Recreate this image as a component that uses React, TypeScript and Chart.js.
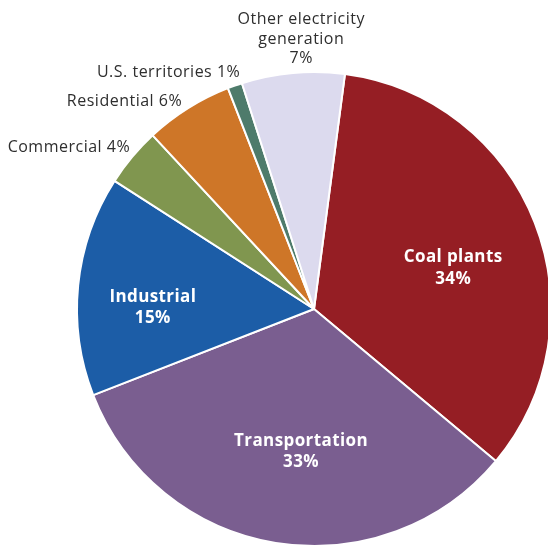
import React, { useEffect, useRef } from "react";
import { Chart, registerables } from "chart.js";

Chart.register(...registerables);

const categories = [
  "Coal plants",
  "Transportation",
  "Industrial",
  "Commercial",
  "Residential",
  "U.S. territories",
  "Other electricity generation",
];
const shares = [34, 33, 15, 4, 6, 1, 7];
const colors = ["#951E24", "#7A5E90", "#1C5DA7", "#80964F", "#CE7628", "#4E7B6B", "#DCDAEE"];
const labelLines = [
  ["Coal plants", "34%"],
  ["Transportation", "33%"],
  ["Industrial", "15%"],
  ["Commercial 4%"],
  ["Residential 6%"],
  ["U.S. territories 1%"],
  ["Other electricity", "generation", "7%"],
];

// placement: inside (white bold) or outside (gray); rf = radius fraction, da = angle shift (deg)
const placement = [
  { inside: true, rf: 0.612, da: 4.9, align: "center" },
  { inside: true, rf: 0.604, da: -4.1, align: "center" },
  { inside: true, rf: 0.68, da: -5.2, align: "center" },
  { inside: false, rf: 1.034, da: 1.5, align: "right" },
  { inside: false, rf: 1.038, da: -0.3, align: "right" },
  { inside: false, rf: 1.046, da: 2.2, align: "right" },
  { inside: false, rf: 1.14, da: 2.4, align: "center" },
];

const labelPlugin = {
  id: "sliceLabels",
  afterDatasetsDraw(chart: any) {
    const ctx = chart.ctx;
    const meta = chart.getDatasetMeta(0);
    meta.data.forEach((arc: any, i: number) => {
      const p = placement[i];
      const lines = labelLines[i];
      const mid = (arc.startAngle + arc.endAngle) / 2 + (p.da * Math.PI) / 180;
      const d = arc.outerRadius * p.rf;
      const x = arc.x + Math.cos(mid) * d;
      const y = arc.y + Math.sin(mid) * d;
      ctx.save();
      ctx.textAlign = p.align as CanvasTextAlign;
      ctx.textBaseline = "middle";
      let lh: number;
      if (p.inside) {
        ctx.font = "bold 17px 'Open Sans'";
        ctx.fillStyle = "#ffffff";
        (ctx as any).letterSpacing = "0.4px";
        lh = 21.5;
      } else {
        ctx.font = "16px 'Open Sans'";
        ctx.fillStyle = "#2e2e2e";
        (ctx as any).letterSpacing = "0.5px";
        lh = 19.5;
      }
      const y0 = y - ((lines.length - 1) * lh) / 2;
      lines.forEach((t, k) => ctx.fillText(t, x, y0 + k * lh));
      ctx.restore();
    });
  },
};

export default function App() {
  const ref = useRef<HTMLCanvasElement | null>(null);
  useEffect(() => {
    if (!ref.current) return;
    const chart = new Chart(ref.current, {
      type: "pie",
      data: {
        labels: categories,
        datasets: [
          {
            data: shares,
            backgroundColor: colors,
            borderColor: "#ffffff",
            borderWidth: 2,
          },
        ],
      },
      options: {
        responsive: false,
        animation: false,
        rotation: 7.5,
        layout: { padding: { left: 76, right: 8, top: 71, bottom: 2 } },
        plugins: {
          legend: { display: false },
          tooltip: { enabled: false },
        },
      },
      plugins: [labelPlugin],
    });
    return () => chart.destroy();
  }, []);
  return (
    <div
      style={{
        position: "absolute",
        left: 0,
        top: 0,
        width: 548,
        height: 549,
        overflow: "hidden",
        background: "#ffffff",
      }}
    >
      <canvas ref={ref} width={560} height={549} style={{ display: "block" }} />
    </div>
  );
}
